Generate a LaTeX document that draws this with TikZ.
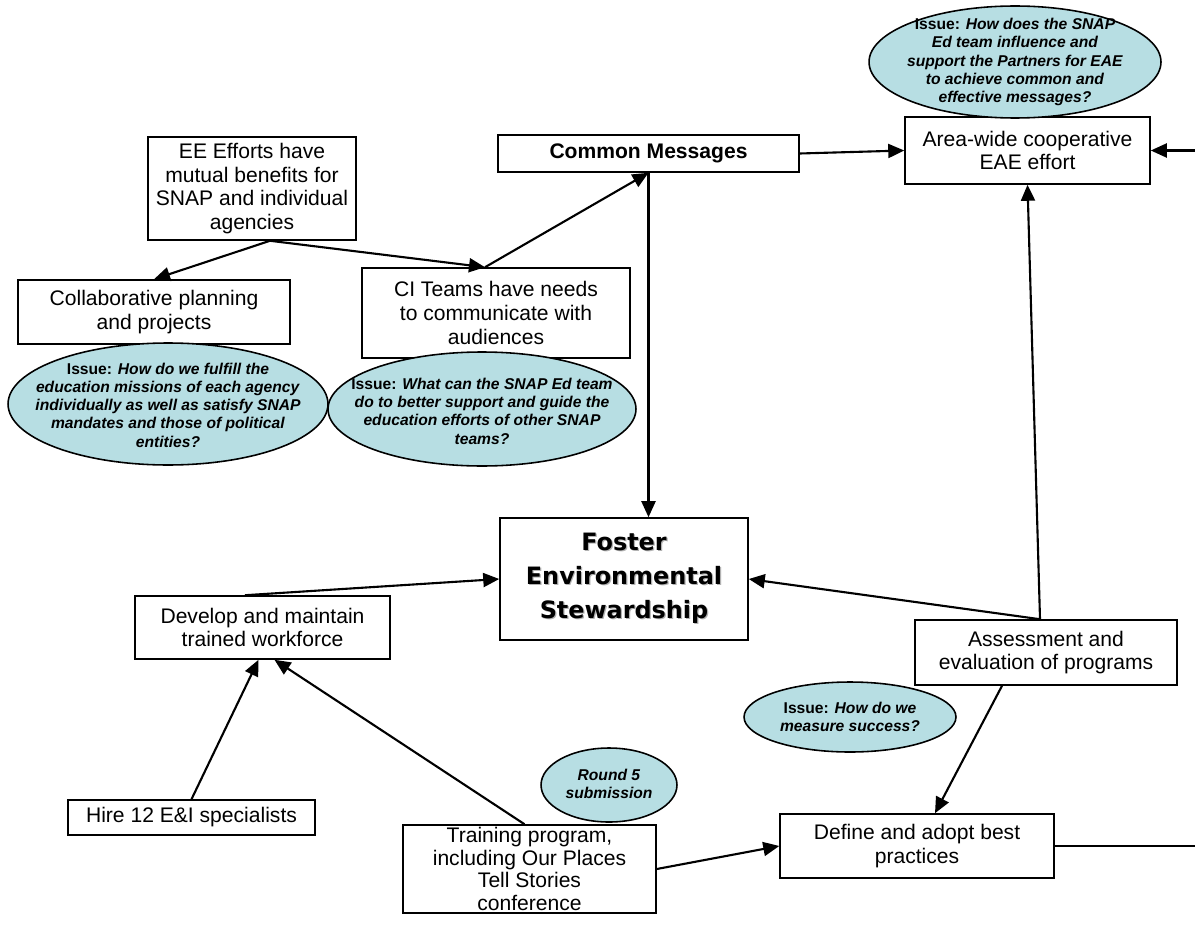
\documentclass[tikz,border=0pt]{standalone}
\usepackage{fontspec}
\setmainfont{Liberation Sans}
\newfontfamily\heavyfont{DejaVu Sans}
\usetikzlibrary{arrows.meta,shapes.geometric}
\definecolor{issuefill}{RGB}{183,222,227}
\newcommand\dropshadow[1]{\leavevmode\rlap{\kern0.7pt\raisebox{-0.7pt}{\color{black!30}#1}}#1}
\begin{document}
\begin{tikzpicture}[x=0.02cm, y=-0.02cm,
    box/.style={draw, line width=0.9pt, align=center, inner sep=0pt, font=\fontsize{12}{13.6}\selectfont},
    issue/.style={draw, line width=0.9pt, fill=issuefill},
    issuetext/.style={align=center, inner sep=0pt, font=\fontsize{8.9}{10.4}\selectfont\bfseries},
    link/.style={line width=1.2pt, -{Triangle[length=3.2mm, width=2.8mm]}}]
    \useasboundingbox (0,0) rectangle (1195,939);

    \node[box, minimum width=4.16cm, minimum height=2.06cm] (ee) at (252,188.5) {EE Efforts have\\mutual benefits for\\SNAP and individual\\agencies};
    \node[box, minimum width=5.44cm, minimum height=1.28cm] (collab) at (154,312) {Collaborative planning\\and projects};
    \node[box, minimum width=5.36cm, minimum height=1.8cm] (ci) at (496,313) {CI Teams have needs\\to communicate with\\audiences};
    \node[box, minimum width=6.02cm, minimum height=0.74cm, font=\fontsize{12}{13.6}\selectfont\bfseries] (common) at (648.5,153.5) {Common Messages};
    \node[box, minimum width=4.9cm, minimum height=1.34cm] (area) at (1027.5,150.5) {Area-wide cooperative\\EAE effort};
    \node[box, minimum width=4.96cm, minimum height=2.44cm, font=\heavyfont\bfseries\fontsize{13.6}{19.3}\selectfont] (foster) at (624,579) {\dropshadow{Foster}\\\dropshadow{Environmental}\\\dropshadow{Stewardship}};
    \node[box, minimum width=5.1cm, minimum height=1.26cm] (develop) at (262.5,627.5) {Develop and maintain\\trained workforce};
    \node[box, minimum width=5.24cm, minimum height=1.3cm] (assess) at (1046,652.5) {Assessment and\\evaluation of programs};
    \node[box, minimum width=4.94cm, minimum height=0.7cm] (hire) at (191.5,817.5) {Hire 12 E\&I specialists};
    \node[box, minimum width=5.06cm, minimum height=1.76cm, font=\fontsize{12}{12.9}\selectfont] (training) at (529.5,869) {Training program,\\including Our Places\\Tell Stories\\conference};
    \node[box, minimum width=5.48cm, minimum height=1.28cm] (define) at (917,846) {Define and adopt best\\practices};

    \draw[issue] (1015,62) ellipse [x radius=2.92cm, y radius=1.12cm];
    \node[issuetext] (q1) at (1015,62) {Issue: \textit{How does the SNAP}\\\textit{Ed team influence and}\\\textit{support the Partners for EAE}\\\textit{to achieve common and}\\\textit{effective messages?}};
    \draw[issue] (168,404) ellipse [x radius=3.2cm, y radius=1.22cm];
    \node[issuetext] (q2) at (168,405) {Issue: \textit{How do we fulfill the}\\\textit{education missions of each agency}\\\textit{individually as well as satisfy SNAP}\\\textit{mandates and those of political}\\\textit{entities?}};
    \draw[issue] (482,409) ellipse [x radius=3.08cm, y radius=1.14cm];
    \node[issuetext] (q3) at (482,411) {Issue: \textit{What can the SNAP Ed team}\\\textit{do to better support and guide the}\\\textit{education efforts of other SNAP}\\\textit{teams?}};
    \draw[issue] (850,717) ellipse [x radius=2.12cm, y radius=0.7cm];
    \node[issuetext] (q4) at (850,717) {Issue: \textit{How do we}\\\textit{measure success?}};
    \draw[issue] (609,785) ellipse [x radius=1.36cm, y radius=0.74cm];
    \node[issuetext] (q5) at (609,784) {\textit{Round 5}\\\textit{submission}};

    \coordinate (edge1) at (1195,150.5);
    \coordinate (edge2) at (1195,846);

    \draw[link] ([xshift=0.36cm]ee.south) -- (collab.north);
    \draw[link] ([xshift=0.36cm]ee.south) -- ([xshift=-0.22cm]ci.north);
    \draw[link] ([xshift=-0.22cm]ci.north) -- (common.south);
    \draw[link] (common.south) -- (common.south |- foster.north);
    \draw[link] (common.east) -- (area.west);
    \draw[link] (edge1) -- (area.east);
    \draw[link] ([xshift=-0.35cm]develop.north) -- (foster.west);
    \draw[link] ([xshift=-0.12cm]assess.north) -- (foster.east);
    \draw[link] ([xshift=-0.12cm]assess.north) -- (area.south);
    \draw[link] ([xshift=-0.88cm]assess.south) -- ([xshift=0.36cm]define.north);
    \draw[link] (hire.north) -- ([xshift=-0.08cm]develop.south);
    \draw[link] ([xshift=-0.1cm]training.north) -- ([xshift=0.24cm]develop.south);
    \draw[link] (training.east) -- (define.west);
    \draw[line width=1.2pt] (define.east) -- (edge2);
\end{tikzpicture}
\end{document}
